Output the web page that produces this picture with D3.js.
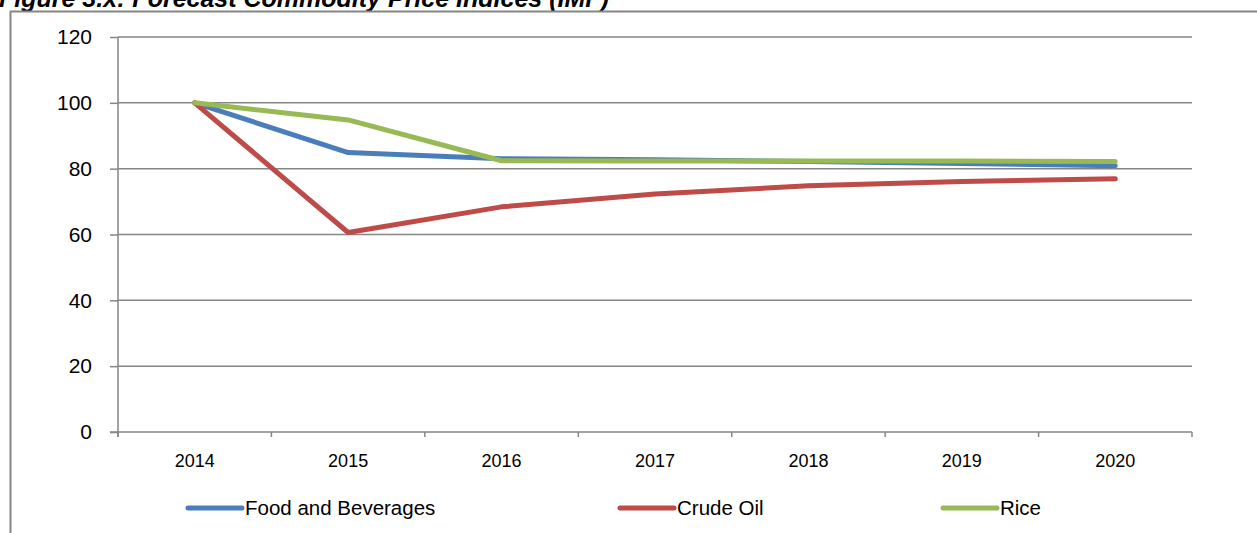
<!DOCTYPE html>
<html>
<head>
<meta charset="utf-8">
<script src="https://cdn.jsdelivr.net/npm/d3@7"></script>
<style>
  html, body { margin: 0; padding: 0; background: #fff; overflow: hidden; }
  svg { display: block; }
  text { font-family: "Liberation Sans", Arial, sans-serif; fill: #000; }
</style>
</head>
<body>
<script>
const years = ["2014", "2015", "2016", "2017", "2018", "2019", "2020"];
const foodBeverages = [100, 84.9, 83.0, 82.7, 82.2, 81.6, 80.9];
const crudeOil = [100, 60.6, 68.4, 72.3, 74.8, 76.1, 76.9];
const rice = [100, 94.8, 82.4, 82.3, 82.3, 82.3, 82.2];
const yTicks = [0, 20, 40, 60, 80, 100, 120];
const seriesNames = ["Food and Beverages", "Crude Oil", "Rice"];
const seriesColors = ["#4A7EBB", "#BE4B48", "#98B954"];
const titleText = "Figure 3.x: Forecast Commodity Price Indices (IMF)";

const W = 1257, H = 533;
const svg = d3.select("body").append("svg").attr("width", W).attr("height", H);

const plotLeft = 118, plotRight = 1192, plotTop = 37, plotBottom = 432;
const gridColor = "#868686";

// Title (cropped at top, as in the reference)
svg.append("text")
  .attr("x", -1).attr("y", 7)
  .style("font-weight", "bold").style("font-style", "italic")
  .style("font-size", "25px")
  .text(titleText);

// Outer frame
svg.append("path")
  .attr("d", `M10.5,${H + 2} L10.5,11.5 L${W + 2},11.5`)
  .attr("fill", "none").attr("stroke", gridColor).attr("stroke-width", 2);

const x = d3.scaleBand().domain(years).range([plotLeft, plotRight]).padding(0);
const y = d3.scaleLinear().domain([0, 120]).range([plotBottom, plotTop]);
const cx = d => x(d) + x.bandwidth() / 2;

// Gridlines
svg.append("g").selectAll("line").data(yTicks.filter(t => t > 0)).join("line")
  .attr("x1", plotLeft).attr("x2", plotRight)
  .attr("y1", d => y(d)).attr("y2", d => y(d))
  .attr("stroke", gridColor).attr("stroke-width", 1.5);

// Y axis
const yAxis = d3.axisLeft(y).tickValues(yTicks).tickSize(8).tickPadding(18);
const gy = svg.append("g").attr("transform", `translate(${plotLeft},0)`).call(yAxis);
gy.select(".domain").remove();
gy.selectAll(".tick line").attr("stroke", gridColor).attr("stroke-width", 1.5);
gy.selectAll(".tick text").style("font-size", "21px").attr("fill", "#000")
  .style("font-family", "'Liberation Sans', Arial, sans-serif");
svg.append("line").attr("x1", plotLeft).attr("x2", plotLeft).attr("y1", plotTop).attr("y2", plotBottom + 5)
  .attr("stroke", gridColor).attr("stroke-width", 1.5);

// X axis
svg.append("line").attr("x1", plotLeft - 8).attr("x2", plotRight).attr("y1", plotBottom).attr("y2", plotBottom)
  .attr("stroke", gridColor).attr("stroke-width", 1.5);
const boundaries = years.map(d => x(d)).concat([plotRight]);
svg.append("g").selectAll("line").data(boundaries).join("line")
  .attr("x1", d => d).attr("x2", d => d).attr("y1", plotBottom).attr("y2", plotBottom + 5)
  .attr("stroke", gridColor).attr("stroke-width", 1.5);
svg.append("g").selectAll("text").data(years).join("text")
  .attr("x", d => cx(d)).attr("y", 467)
  .attr("text-anchor", "middle")
  .style("font-size", "18px")
  .text(d => d);

// Lines
const allSeries = [foodBeverages, crudeOil, rice];
const lineGen = d3.line().x((d, i) => cx(years[i])).y(d => y(d));
svg.append("g").selectAll("path").data(allSeries).join("path")
  .attr("d", d => lineGen(d))
  .attr("fill", "none")
  .attr("stroke", (d, i) => seriesColors[i])
  .attr("stroke-width", 5)
  .attr("stroke-linejoin", "round")
  .attr("stroke-linecap", "round");

// Legend
const legendX = [188, 620, 943];
const lg = svg.append("g").selectAll("g").data(seriesNames).join("g")
  .attr("transform", (d, i) => `translate(${legendX[i]},508)`);
lg.append("line").attr("x1", 0).attr("x2", 54).attr("y1", 0).attr("y2", 0)
  .attr("stroke", (d, i) => seriesColors[i]).attr("stroke-width", 5).attr("stroke-linecap", "round");
lg.append("text").attr("x", 57).attr("y", 7).style("font-size", "20.5px").text(d => d);
</script>
</body>
</html>
